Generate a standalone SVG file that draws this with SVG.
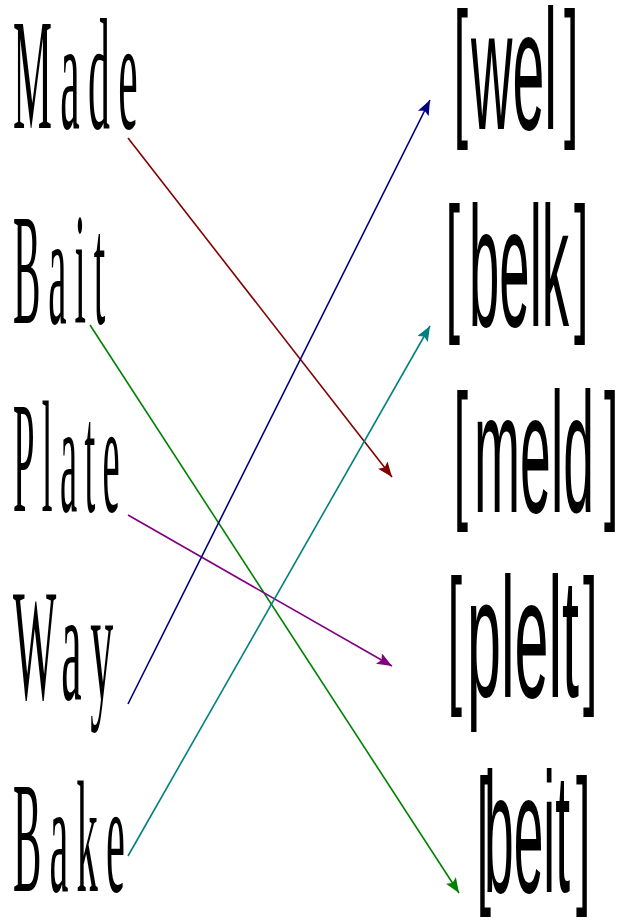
<svg xmlns="http://www.w3.org/2000/svg" width="622" height="922" viewBox="0 0 622 922">
<style>
.l{font-family:"Liberation Serif","Times New Roman",serif;font-size:158px;fill:#000;letter-spacing:30px}
.r{font-family:"Liberation Sans",Arial,sans-serif;font-size:170px;fill:#000}
.b{font-family:"Liberation Sans",Arial,sans-serif;font-size:152px;fill:#000}
.c{fill:none;stroke-width:1.6}
</style>
<defs>
<marker id="mR" markerUnits="userSpaceOnUse" markerWidth="16" markerHeight="12" refX="15" refY="6" orient="auto"><path d="M0,0 L15,6 L0,12 L3,6 Z" fill="#800000"/></marker>
<marker id="mG" markerUnits="userSpaceOnUse" markerWidth="16" markerHeight="12" refX="15" refY="6" orient="auto"><path d="M0,0 L15,6 L0,12 L3,6 Z" fill="#008000"/></marker>
<marker id="mP" markerUnits="userSpaceOnUse" markerWidth="16" markerHeight="12" refX="15" refY="6" orient="auto"><path d="M0,0 L15,6 L0,12 L3,6 Z" fill="#800080"/></marker>
<marker id="mN" markerUnits="userSpaceOnUse" markerWidth="16" markerHeight="12" refX="15" refY="6" orient="auto"><path d="M0,0 L15,6 L0,12 L3,6 Z" fill="#000080"/></marker>
<marker id="mT" markerUnits="userSpaceOnUse" markerWidth="16" markerHeight="12" refX="15" refY="6" orient="auto"><path d="M0,0 L15,6 L0,12 L3,6 Z" fill="#008080"/></marker>
</defs>
<rect width="622" height="922" fill="#fff"/>
<g id="made"><text class="l" x="13" y="128" textLength="133" lengthAdjust="spacingAndGlyphs">Made</text></g>
<g id="bait"><text class="l" x="13" y="323" textLength="100" lengthAdjust="spacingAndGlyphs">Bait</text></g>
<g id="plate"><text class="l" x="13" y="511" textLength="114" lengthAdjust="spacingAndGlyphs">Plate</text></g>
<g id="way"><text class="l" x="13" y="699" textLength="109" lengthAdjust="spacingAndGlyphs">Way</text></g>
<g id="bake"><text class="l" x="13" y="891" textLength="120" lengthAdjust="spacingAndGlyphs">Bake</text></g>

<g id="wel">
<text class="b" transform="translate(453.4,118) scale(0.345,1)">[</text>
<text class="r" x="471" y="129" textLength="86" lengthAdjust="spacingAndGlyphs">wel</text>
<text class="b" transform="translate(564,118) scale(0.345,1)">]</text>
</g>
<g id="belk">
<text class="b" transform="translate(445.4,313) scale(0.345,1)">[</text>
<text class="r" x="469" y="326" textLength="100" lengthAdjust="spacingAndGlyphs">belk</text>
<text class="b" transform="translate(574,313) scale(0.345,1)">]</text>
</g>
<g id="meld">
<text class="b" transform="translate(453.4,500) scale(0.345,1)">[</text>
<text class="r" x="474" y="512" textLength="120" lengthAdjust="spacingAndGlyphs">meld</text>
<text class="b" transform="translate(604,500) scale(0.345,1)">]</text>
</g>
<g id="plelt">
<text class="b" transform="translate(447.4,685) scale(0.345,1)">[</text>
<text class="r" x="467" y="697" textLength="112" lengthAdjust="spacingAndGlyphs">plelt</text>
<text class="b" transform="translate(583,685) scale(0.345,1)">]</text>
</g>
<g id="beit">
<text class="b" transform="translate(476.4,885) scale(0.345,1)">[</text>
<text class="r" x="484" y="892" textLength="86" lengthAdjust="spacingAndGlyphs">beit</text>
<text class="b" transform="translate(576,885) scale(0.345,1)">]</text>
</g>

<g id="connectors">
<line class="c" x1="128" y1="138" x2="392" y2="477" stroke="#800000" marker-end="url(#mR)"/>
<line class="c" x1="90" y1="325" x2="459" y2="893" stroke="#008000" marker-end="url(#mG)"/>
<line class="c" x1="128" y1="515" x2="392" y2="666" stroke="#800080" marker-end="url(#mP)"/>
<line class="c" x1="128" y1="704" x2="430" y2="100" stroke="#000080" marker-end="url(#mN)"/>
<line class="c" x1="128" y1="856" x2="430" y2="326" stroke="#008080" marker-end="url(#mT)"/>
</g>
</svg>
